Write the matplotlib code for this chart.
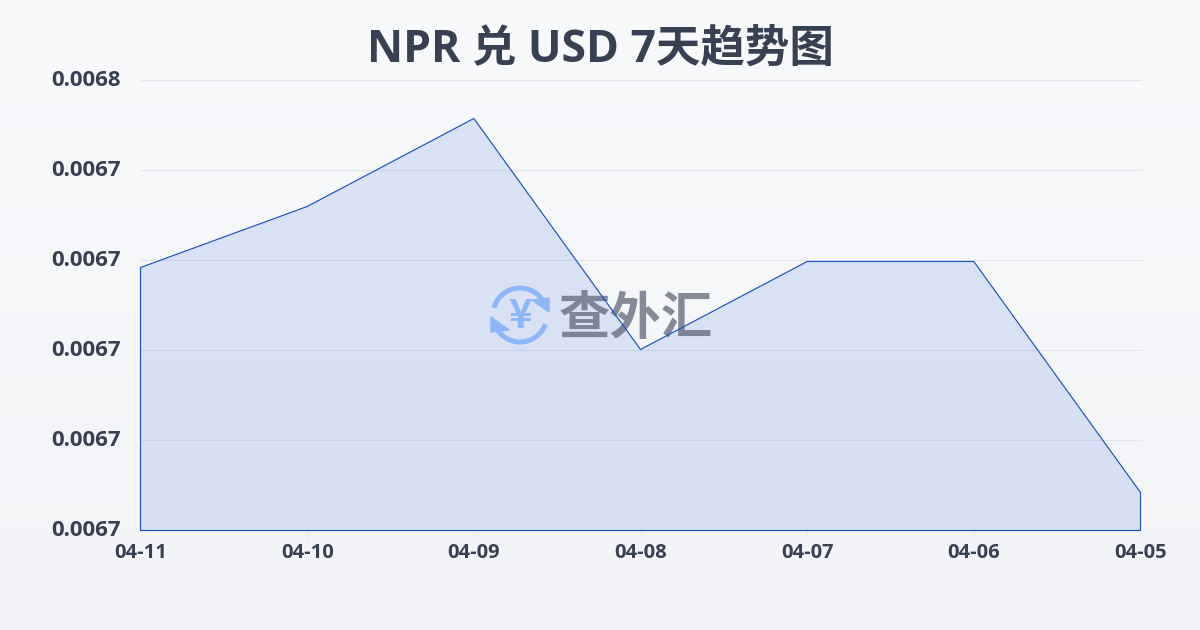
import numpy as np
import matplotlib
matplotlib.use('Agg')
import matplotlib.pyplot as plt
from matplotlib.patches import Arc, Polygon
from matplotlib.transforms import Affine2D

plt.rcParams['font.family'] = ['Open Sans', 'Noto Sans CJK SC', 'DejaVu Sans']

dates = ['04-11', '04-10', '04-09', '04-08', '04-07', '04-06', '04-05']
rates = [0.00672922, 0.00673600, 0.00674578, 0.00672011, 0.00672989, 0.00672989, 0.00670422]
y_ticks = [0.00670, 0.00671, 0.00672, 0.00673, 0.00674, 0.00675]
y_labels = ['0.0067', '0.0067', '0.0067', '0.0067', '0.0067', '0.0068']

TEXT = '#374151'
BLUE = '#1f52bd'

fig = plt.figure(figsize=(12, 6.3), dpi=100)

# page background, light vertical gradient
bg = fig.add_axes([0, 0, 1, 1], zorder=0)
bg.imshow(np.linspace(0, 1, 256).reshape(-1, 1), aspect='auto', extent=[0, 1, 0, 1],
          cmap=matplotlib.colors.LinearSegmentedColormap.from_list('bg', ['#f9fafc', '#f2f4f7']))
bg.axis('off')

ax = fig.add_axes([140.5 / 1200, 1 - 530.5 / 630, 1000 / 1200, 450 / 630], zorder=1)
ax.patch.set_alpha(0)
x = np.arange(len(dates))
ax.set_xlim(0, len(dates) - 1)
ax.set_ylim(y_ticks[0], y_ticks[-1])

ax.fill_between(x, rates, y_ticks[0], facecolor='#2f64d8', alpha=0.14, linewidth=0, zorder=1)
ax.fill_between(x, rates, y_ticks[0], facecolor='none', edgecolor=BLUE, linewidth=0.85, zorder=4, clip_on=False)

ax.set_yticks(y_ticks)
ax.set_yticklabels(y_labels, fontsize=16, fontweight='bold', color=TEXT)
ax.set_xticks(x)
ax.set_xticklabels(dates, fontsize=14.5, fontweight='bold', color=TEXT)
ax.grid(axis='y', color='#e2e6ec', linewidth=0.8, zorder=0)
ax.set_axisbelow(True)
for gl in ax.get_ygridlines():
    gl.set_clip_on(False)
ax.tick_params(axis='y', length=0, pad=14)
ax.tick_params(axis='x', length=6, width=0.8, color='#e8eaee', pad=3)
for s in ax.spines.values():
    s.set_visible(False)
for lab in ax.get_yticklabels():
    lab.set_verticalalignment('center')

# watermark logo, in pixels from the top left
px = Affine2D().scale(1, -1).translate(0, 630)
logo_blue = '#8fb6f7'
for t1, t2 in [(195, 345), (20, 165)]:
    ax.add_patch(Arc((520, 315), 54, 54, theta1=t1, theta2=t2, color=logo_blue, linewidth=3.6,
                     transform=px, clip_on=False, zorder=2))
ax.add_patch(Polygon([[532, 300], [549, 298], [549, 312]], color=logo_blue, transform=px, clip_on=False, zorder=2))
ax.add_patch(Polygon([[491, 317], [491, 332], [509, 330]], color=logo_blue, transform=px, clip_on=False, zorder=2))
ax.text(520, 316, '¥', transform=px, fontsize=29, fontweight='heavy', color=logo_blue,
        ha='center', va='center', family=['Noto Sans CJK SC'], zorder=2)
ax.text(636, 321, '查外汇', transform=px, fontsize=37, fontweight='bold', color='#5f6678', alpha=0.75,
        ha='center', va='center', zorder=3)

fig.text(0.5, 1 - 50 / 630, 'NPR 兑 USD 7天趋势图', fontsize=32, fontweight='bold',
         color=TEXT, ha='center', va='center')

fig.savefig('out.png', dpi=100)
